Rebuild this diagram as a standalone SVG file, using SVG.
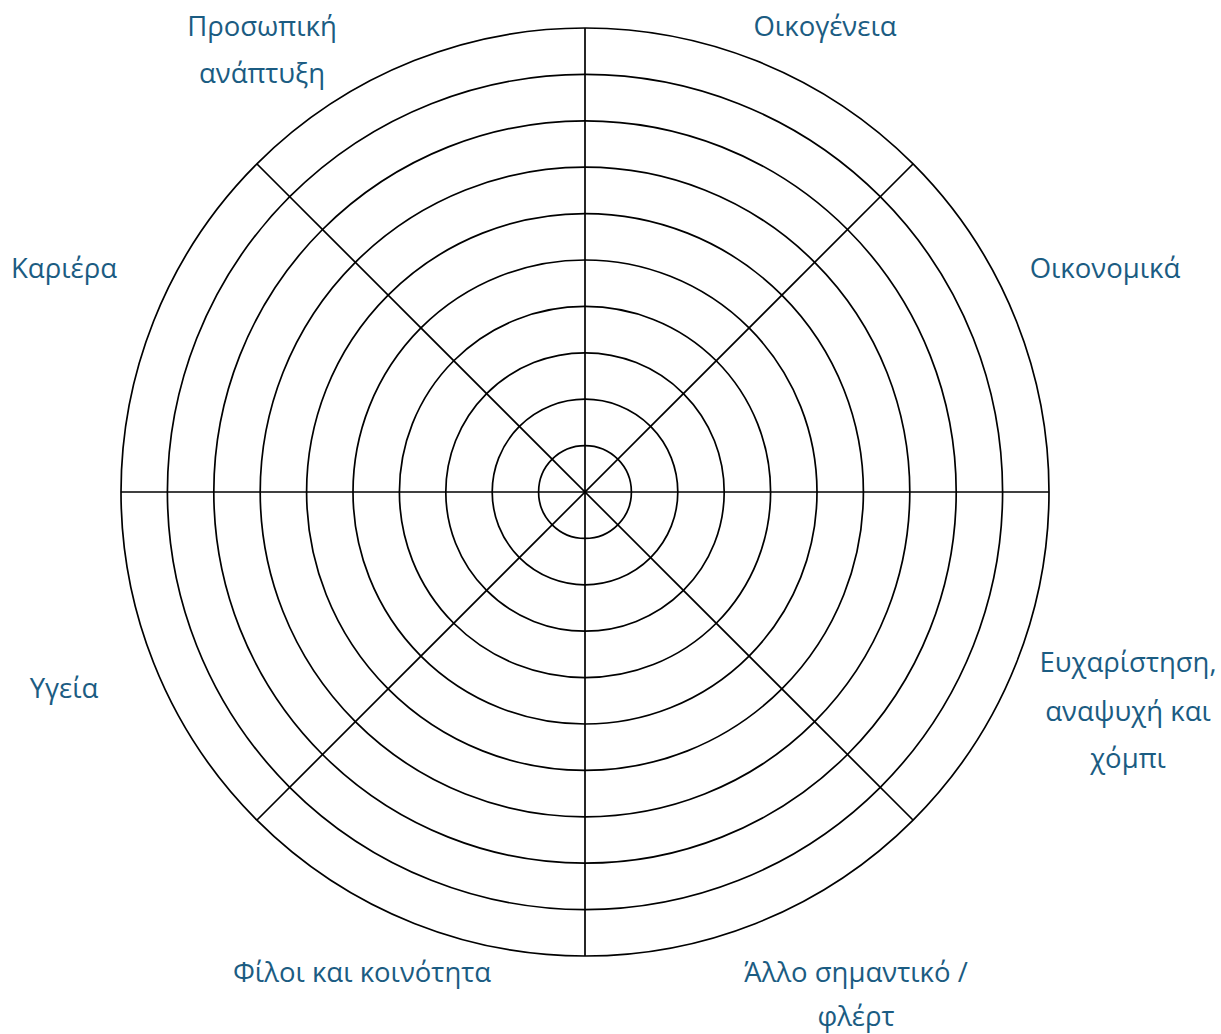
<svg xmlns="http://www.w3.org/2000/svg" width="1221" height="1034" viewBox="0 0 1221 1034">
<style>
.ring{fill:none;stroke:#000;stroke-width:1.7}
.spoke{stroke:#000;stroke-width:1.7}
.lbl{font-family:"Open Sans","Noto Sans",sans-serif;font-size:27.5px;fill:#1B5C82;text-anchor:middle;dominant-baseline:central}
</style>
<rect width="1221" height="1034" fill="#fff"/>
<g id="wheel">
<circle class="ring" cx="585" cy="492" r="46.4"/>
<circle class="ring" cx="585" cy="492" r="92.8"/>
<circle class="ring" cx="585" cy="492" r="139.2"/>
<circle class="ring" cx="585" cy="492" r="185.6"/>
<circle class="ring" cx="585" cy="492" r="232"/>
<circle class="ring" cx="585" cy="492" r="278.4"/>
<circle class="ring" cx="585" cy="492" r="324.8"/>
<circle class="ring" cx="585" cy="492" r="371.2"/>
<circle class="ring" cx="585" cy="492" r="417.6"/>
<circle class="ring" cx="585" cy="492" r="464"/>
</g>
<g id="connectors">
<line class="spoke" x1="121" y1="492" x2="1049" y2="492"/>
<line class="spoke" x1="585" y1="28" x2="585" y2="956"/>
<line class="spoke" x1="257" y1="164" x2="913" y2="820"/>
<line class="spoke" x1="913" y1="164" x2="257" y2="820"/>
</g>
<g id="label-personal"><text class="lbl" x="262" y="25">Προσωπική</text><text class="lbl" x="262" y="72">ανάπτυξη</text></g>
<g id="label-family"><text class="lbl" x="825" y="25">Οικογένεια</text></g>
<g id="label-career"><text class="lbl" x="64" y="267">Καριέρα</text></g>
<g id="label-finance"><text class="lbl" x="1105" y="267">Οικονομικά</text></g>
<g id="label-health"><text class="lbl" x="64" y="687">Υγεία</text></g>
<g id="label-fun"><text class="lbl" x="1128" y="661">Ευχαρίστηση,</text><text class="lbl" x="1128" y="710">αναψυχή και</text><text class="lbl" x="1128" y="757">χόμπι</text></g>
<g id="label-friends"><text class="lbl" x="362" y="971">Φίλοι και κοινότητα</text></g>
<g id="label-other"><text class="lbl" x="856" y="971">Άλλο σημαντικό /</text><text class="lbl" x="856" y="1015">φλέρτ</text></g>
</svg>
